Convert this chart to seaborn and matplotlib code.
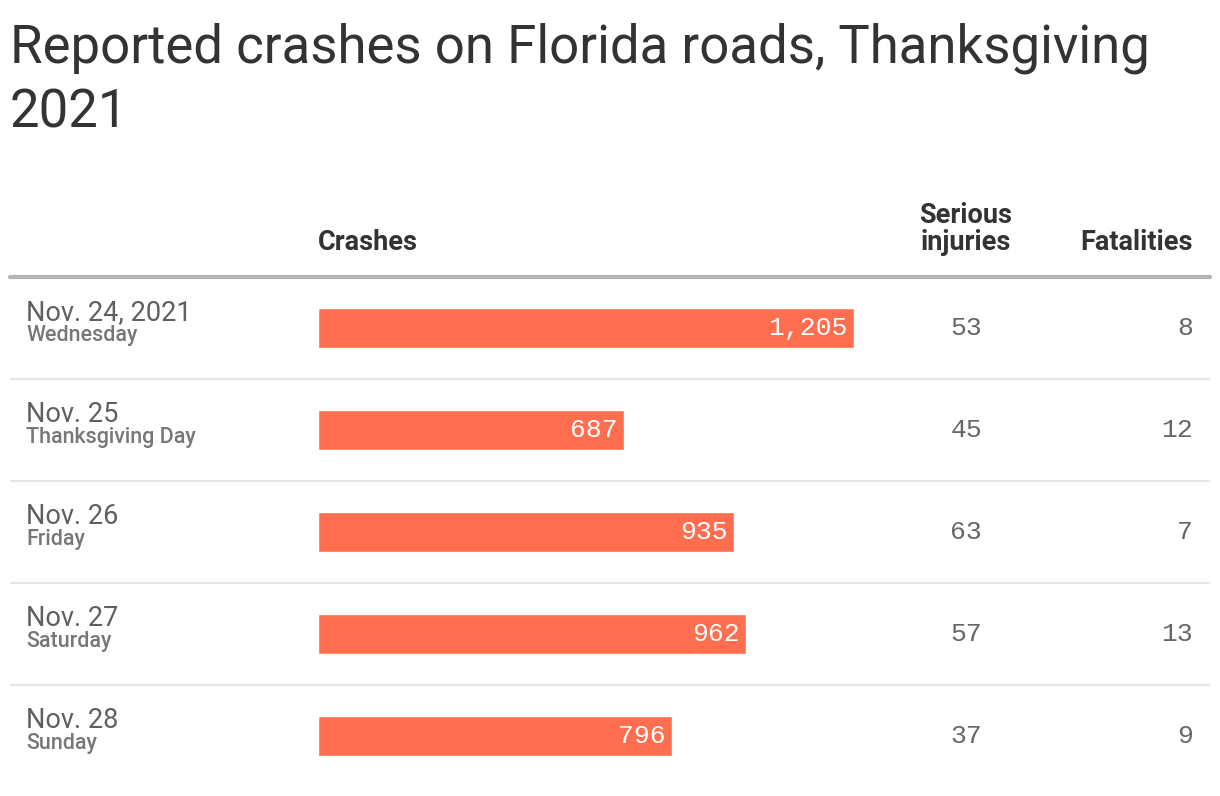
import matplotlib
matplotlib.use("Agg")
from matplotlib import pyplot as plt
import matplotlib.transforms as mtransforms
import pandas as pd
import seaborn as sns

# Chart data
dates = ["Nov. 24, 2021", "Nov. 25", "Nov. 26", "Nov. 27", "Nov. 28"]
days = ["Wednesday", "Thanksgiving Day", "Friday", "Saturday", "Sunday"]
crashes = [1205, 687, 935, 962, 796]
serious_injuries = [53, 45, 63, 57, 37]
fatalities = [8, 12, 7, 13, 9]

df = pd.DataFrame({"date": dates, "day": days, "crashes": crashes,
                   "injuries": serious_injuries, "fatalities": fatalities})

sns.set_theme(style="white")
plt.rcParams["font.family"] = ["Roboto", "DejaVu Sans"]

W, H = 1220, 796
fig = plt.figure(figsize=(W / 100, H / 100), dpi=100)

# table area in pixels: x 10..1210, y 277..787
left_px, right_px = 10, 1210
top_px, bot_px = 277, 787
ax = fig.add_axes([left_px / W, 1 - bot_px / H, (right_px - left_px) / W, (bot_px - top_px) / H])

bar_color = "#ff6f4f"
sns.barplot(data=df, x="crashes", y="date", orient="h", color=bar_color,
            width=0.39, saturation=1, ax=ax)

# bar zero at x=318px, 1205 at x=854px
scale = max(crashes) / (854 - 318)
ax.set_xlim(-(318 - left_px) * scale, (right_px - 318) * scale)
ax.set_ylim(len(dates) - 0.5, -0.5)
ax.axis("off")

num = dict(family=["Liberation Mono", "DejaVu Sans Mono"], fontsize=19, va="center")
blend = mtransforms.blended_transform_factory(ax.transAxes, ax.transData)

def fx(px):
    return (px - left_px) / (right_px - left_px)

for i, row in df.iterrows():
    ax.text(fx(26), i - 0.08, row["date"], transform=blend, ha="left", va="baseline",
            fontsize=19.5, color="#5f5f5f")
    ax.text(fx(26), i + 0.13, row["day"], transform=blend, ha="left", va="baseline",
            fontsize=15.5, color="#777777", fontweight="medium")
    ax.text(row["crashes"] - 6 * scale, i, f"{row['crashes']:,}", ha="right",
            color="white", **num)
    ax.text(fx(966), i, str(row["injuries"]), transform=blend, ha="center",
            color="#666666", **num)
    ax.text(fx(1193), i, str(row["fatalities"]), transform=blend, ha="right",
            color="#666666", **num)

# row separators
for i in range(len(dates) - 1):
    ax.axhline(i + 0.5, color="#e6e6e6", lw=1.5)
ax.axhline(-0.5, color="#b3b3b3", lw=3, clip_on=False)

# headers
hdr = dict(fontsize=19.5, color="#333333", fontweight="semibold", va="baseline")
fig.text(318 / W, 1 - 250 / H, "Crashes", ha="left", **hdr)
fig.text(966 / W, 1 - 250 / H, "Serious\ninjuries", ha="center", linespacing=1.0, **hdr)
fig.text(1193 / W, 1 - 250 / H, "Fatalities", ha="right", **hdr)

# title
fig.text(10 / W, 1 - 62 / H, "Reported crashes on Florida roads, Thanksgiving", ha="left",
         va="baseline", fontsize=38, color="#333333")
fig.text(10 / W, 1 - 128 / H, "2021", ha="left", va="baseline", fontsize=38, color="#333333")

fig.savefig("out.png", dpi=100, facecolor="white")
